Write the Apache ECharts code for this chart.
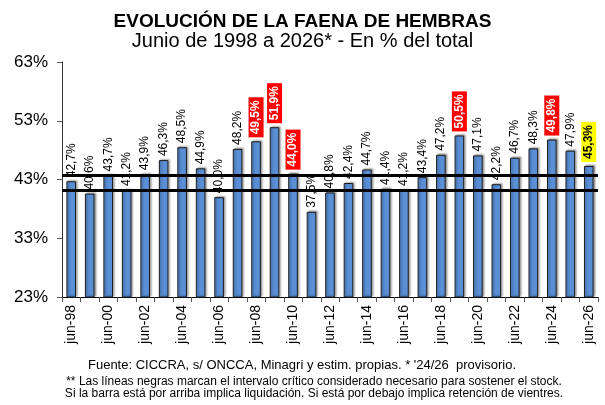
<!DOCTYPE html>
<html>
<head>
<meta charset="utf-8">
<script src="https://cdn.jsdelivr.net/npm/echarts@6/dist/echarts.min.js"></script>
<style>
  html, body { margin: 0; padding: 0; background: #fff; }
  #chart { width: 605px; height: 405px; }
</style>
</head>
<body>
<div id="chart"></div>
<script>
const years = ["98","99","00","01","02","03","04","05","06","07","08","09","10","11","12","13","14","15","16","17","18","19","20","21","22","23","24","25","26"];
const categories = years.map((y) => "jun-" + y);
const shares = [42.7, 40.6, 43.7, 41.2, 43.9, 46.3, 48.5, 44.9, 40.0, 48.2, 49.5, 51.9, 44.0, 37.5, 40.8, 42.4, 44.7, 41.4, 41.2, 43.4, 47.2, 50.5, 47.1, 42.2, 46.7, 48.3, 49.8, 47.9, 45.3];
const redYears = ["08", "09", "10", "19", "24"];
const yellowYears = ["26"];
const criticalBand = [43.8, 41.1];
const yTicks = [23, 33, 43, 53, 63];

const fmt = (v) => v.toFixed(1).replace(".", ",") + "%";
const font = "Liberation Sans, Arial, sans-serif";

const barData = shares.map((v, i) => {
  const y = years[i];
  if (redYears.includes(y)) {
    return {
      value: v,
      label: { color: "#fff", fontWeight: "bold", backgroundColor: "#ff0000", padding: [2, 3, 1, 3] },
    };
  }
  if (yellowYears.includes(y)) {
    return {
      value: v,
      label: { color: "#000", fontWeight: "bold", backgroundColor: "#ffff00", padding: [2, 3, 1, 3] },
    };
  }
  return v;
});

const chart = echarts.init(document.getElementById("chart"));
chart.setOption({
  animation: false,
  title: [
    {
      text: "EVOLUCIÓN DE LA FAENA DE HEMBRAS",
      left: "center",
      top: 7,
      textStyle: { fontFamily: font, fontSize: 19, fontWeight: "bold", color: "#000" },
    },
    {
      text: "Junio de 1998 a 2026* - En % del total",
      left: "center",
      top: 26,
      textStyle: { fontFamily: font, fontSize: 20, fontWeight: "normal", color: "#000" },
    },
  ],
  grid: { top: 62, right: 7, bottom: 108, left: 62 },
  xAxis: {
    type: "category",
    data: categories,
    axisLine: { lineStyle: { color: "#000", width: 1 } },
    axisTick: { show: true, interval: 0, length: 5, lineStyle: { color: "#555" } },
    axisLabel: {
      interval: 1,
      rotate: 90,
      fontFamily: font,
      fontSize: 14,
      color: "#000",
      margin: 8,
    },
  },
  yAxis: {
    type: "value",
    min: yTicks[0],
    max: yTicks[yTicks.length - 1],
    interval: 10,
    splitLine: { show: false },
    axisLine: { show: true, lineStyle: { color: "#333" } },
    axisTick: { show: true, length: 5, lineStyle: { color: "#555" } },
    axisLabel: {
      fontFamily: font,
      fontSize: 17,
      color: "#000",
      margin: 14,
      formatter: (v) => v + "%",
    },
  },
  series: [
    {
      type: "bar",
      data: barData,
      barWidth: "52%",
      itemStyle: {
        color: "#5a8fd6",
        borderColor: "#1c1c1c",
        borderWidth: 1,
        shadowColor: "rgba(0,0,0,0.35)",
        shadowBlur: 2,
        shadowOffsetX: 1.5,
        shadowOffsetY: -1,
      },
      label: {
        show: true,
        position: "top",
        rotate: 90,
        align: "left",
        verticalAlign: "middle",
        distance: 4,
        fontFamily: font,
        fontSize: 12,
        color: "#000",
        formatter: (p) => fmt(p.value),
      },
      markLine: {
        silent: true,
        symbol: "none",
        label: { show: false },
        lineStyle: { color: "#000", width: 3, type: "solid" },
        data: criticalBand.map((v) => ({ yAxis: v })),
      },
    },
  ],
  graphic: [
    {
      type: "text",
      x: 302,
      y: 359,
      style: {
        text: "Fuente: CICCRA, s/ ONCCA, Minagri y estim. propias. * '24/26  provisorio.",
        fontFamily: font,
        fontSize: 13,
        align: "center",
        fill: "#000",
      },
    },
    {
      type: "text",
      x: 314,
      y: 376,
      style: {
        text: "** Las líneas negras marcan el intervalo crítico considerado necesario para sostener el stock.\nSi la barra está por arriba implica liquidación. Si está por debajo implica retención de vientres.",
        fontFamily: font,
        fontSize: 12,
        lineHeight: 12,
        align: "center",
        fill: "#000",
      },
    },
  ],
});
</script>
</body>
</html>
